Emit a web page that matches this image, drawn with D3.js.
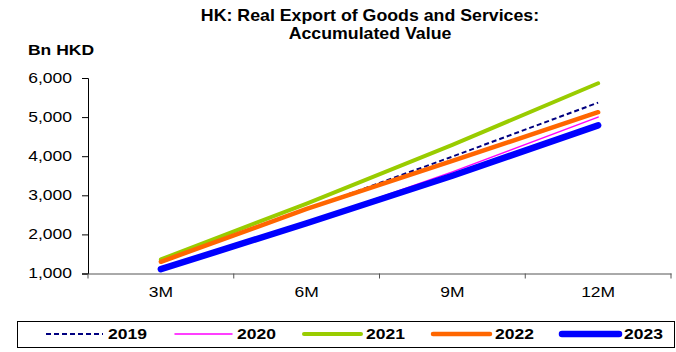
<!DOCTYPE html>
<html><head><meta charset="utf-8">
<script src="https://cdn.jsdelivr.net/npm/d3@7"></script>
<style>body{margin:0;background:#fff}svg{display:block}text{font-family:"Liberation Sans",Arial,sans-serif}</style>
</head><body><svg id="c" width="676" height="352"></svg>
<script>
const categories = ["3M","6M","9M","12M"];
const yTicks = [1000,2000,3000,4000,5000,6000];
const s2019 = [1290, 2640, 3990, 5370];
const s2020 = [1120, 2290, 3600, 5000];
const s2021 = [1360, 2790, 4290, 5865];
const s2022 = [1300, 2650, 3880, 5125];
const s2023 = [1110, 2285, 3500, 4790];
const seriesNames = ["2019","2020","2021","2022","2023"];
const seriesData = [s2019, s2020, s2021, s2022, s2023];
const colors = ["#000080","#ff00ff","#99cc00","#ff6600","#0000ff"];
const widths = [2, 1.5, 4, 4.5, 6.5];
const dashes = ["5,3", null, null, null, null];

const SX = 1.25;
const svg = d3.select("#c");
const x = d3.scaleBand().domain(categories).range([88, 671]);
const y = d3.scaleLinear().domain([1000, 6000]).range([273.5, 78]);

function stext(px, py, str, size, bold, anchor) {
  const g = svg.append("g").attr("transform", `translate(${px},${py}) scale(${SX},1)`);
  g.append("text").attr("text-anchor", anchor || "start")
    .attr("font-weight", bold ? "bold" : "normal").attr("font-size", size).text(str);
  return g;
}

const titleG1 = svg.append("g").attr("transform", "translate(370,21) scale(1.11,1)");
titleG1.append("text").attr("text-anchor","middle").attr("font-weight","bold").attr("font-size",16)
  .text("HK: Real Export of Goods and Services:");
const titleG2 = svg.append("g").attr("transform", "translate(370,38.5) scale(1.11,1)");
titleG2.append("text").attr("text-anchor","middle").attr("font-weight","bold").attr("font-size",16)
  .text("Accumulated Value");
stext(28, 55, "Bn HKD", 14, true);

const yAxis = d3.axisLeft(y).tickValues(yTicks).tickSize(6).tickFormat(d3.format(","));
const gy = svg.append("g").attr("transform","translate(88,0)").call(yAxis);
gy.selectAll("text").attr("font-size",14).attr("fill","#000")
  .style("font-family","Liberation Sans, Arial, sans-serif")
  .attr("x", -16 / SX).attr("transform", `scale(${SX},1)`);
gy.select(".domain").attr("stroke","#000");
gy.selectAll(".tick line").attr("stroke","#000");

const xAxis = d3.axisBottom(x).tickSize(0).tickPadding(13.5);
const gx = svg.append("g").attr("transform","translate(0,273.5)").call(xAxis);
gx.selectAll("text").attr("font-size",14).attr("fill","#000")
  .style("font-family","Liberation Sans, Arial, sans-serif")
  .attr("transform", `scale(${SX},1)`);
gx.select(".domain").attr("stroke","#555");
const edges = [88].concat(categories.map(c => x(c) + x.bandwidth()));
gx.selectAll(".edge").data(edges).enter().append("line")
  .attr("x1", d => d).attr("x2", d => d).attr("y1", 0).attr("y2", 5).attr("stroke","#555");

const line = d3.line().x((d,i) => x(categories[i]) + x.bandwidth()/2).y(d => y(d));
seriesData.forEach((s, k) => {
  svg.append("path").datum(s).attr("d", line).attr("fill","none")
    .attr("stroke", colors[k]).attr("stroke-width", widths[k])
    .attr("stroke-linecap", k === 0 ? "butt" : "round")
    .attr("stroke-dasharray", dashes[k]);
});

// legend
svg.append("rect").attr("x",17.5).attr("y",321.5).attr("width",657).attr("height",26)
  .attr("fill","#fff").attr("stroke","#000");
const lx = d3.scaleLinear().domain([0,4]).range([46, 562]);
seriesNames.forEach((n,k) => {
  const g = svg.append("g").attr("transform", `translate(${lx(k)},334)`);
  g.append("line").attr("x1",0).attr("x2",57).attr("y1",0).attr("y2",0)
    .attr("stroke",colors[k]).attr("stroke-width",widths[k])
    .attr("stroke-linecap", k === 0 ? "butt" : "round").attr("stroke-dasharray",dashes[k]);
  const tg = g.append("g").attr("transform", `translate(62,5) scale(${SX},1)`);
  tg.append("text").attr("font-weight","bold").attr("font-size",14).text(n);
});
</script></body></html>
